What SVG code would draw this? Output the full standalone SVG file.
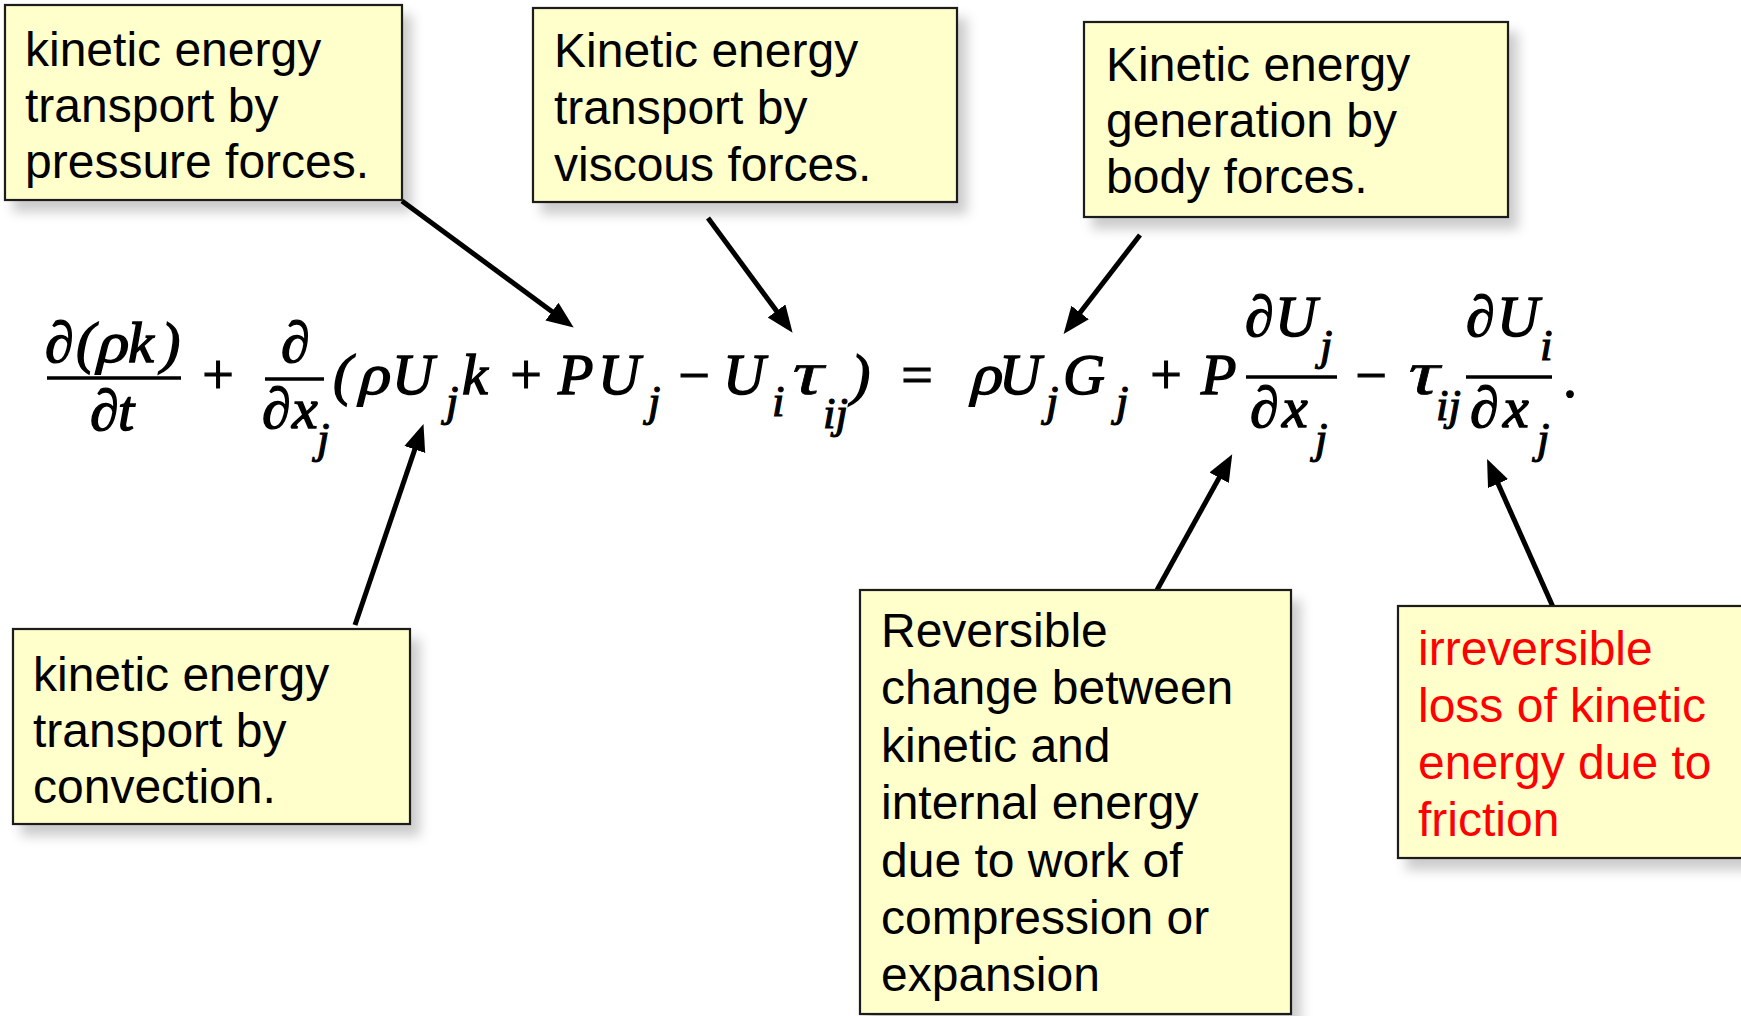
<svg xmlns="http://www.w3.org/2000/svg" width="1741" height="1016" viewBox="0 0 1741 1016">
<defs>
<style>
.box{fill:#FFFFCC;stroke:#1a1a1a;stroke-width:2.2;filter:url(#sh)}
.lbl{font-family:"Liberation Sans",Arial,sans-serif;font-size:48px;fill:#000}
.red{fill:#FF0000}
.m{font-family:"Liberation Serif","DejaVu Serif",serif;font-style:italic;font-size:58px;fill:#000;stroke:#000;stroke-width:1.4}
.g{font-family:"Liberation Serif","DejaVu Serif",serif;font-size:58px;fill:#000;stroke:#000;stroke-width:1.3}
.t{font-family:"Liberation Serif","DejaVu Serif",serif;font-size:58px;fill:#000;stroke:#000;stroke-width:0.6}
.s{font-family:"Liberation Serif","DejaVu Serif",serif;font-style:italic;font-size:45px;fill:#000;stroke:#000;stroke-width:1.1}
.op{font-family:"Liberation Serif","DejaVu Serif",serif;font-size:56px;fill:#000;stroke:#000;stroke-width:1.2;text-anchor:middle}
.bar{stroke:#000;stroke-width:3.4}
.conn{stroke:#000;stroke-width:5;fill:none;marker-end:url(#ah)}
</style>
<filter id="sh" x="-10%" y="-10%" width="130%" height="140%">
<feDropShadow dx="9" dy="11" stdDeviation="6" flood-color="#000" flood-opacity="0.2"/>
</filter>
<marker id="ah" markerUnits="userSpaceOnUse" markerWidth="30" markerHeight="24" refX="10" refY="11" orient="auto">
<path d="M0,0 L27,11 L0,22 z" fill="#000"/>
</marker>
</defs>
<rect width="1741" height="1016" fill="#fff"/>

<g id="connectors">
<line class="conn" x1="402" y1="201" x2="560" y2="317.5"/>
<line class="conn" x1="708" y1="218" x2="782.5" y2="319"/>
<line class="conn" x1="1140" y1="235" x2="1074" y2="320.5"/>
<line class="conn" x1="355" y1="625" x2="418" y2="440"/>
<line class="conn" x1="1157" y1="590" x2="1224" y2="469"/>
<line class="conn" x1="1553" y1="607" x2="1494" y2="474.5"/>
</g>

<g id="equation">
<text class="m" x="45 76" y="362">∂(</text>
<text class="g" transform="translate(94,362) skewX(-14) scale(1.12,1)">ρ</text>
<text class="m" x="128 161" y="362">k)</text>
<line class="bar" x1="47" y1="378" x2="181" y2="378"/>
<text class="m" x="90 118" y="430">∂t</text>
<text class="op" x="218" y="394">+</text>
<text class="m" x="281" y="362">∂</text>
<line class="bar" x1="265" y1="379" x2="324" y2="379"/>
<text class="m" x="262 292" y="428">∂x</text>
<text class="s" x="317" y="453">j</text>
<text class="m" x="333" y="394">(</text>
<text class="g" transform="translate(356,394) skewX(-14) scale(1.12,1)">ρ</text>
<text class="m" x="392" y="394">U</text>
<text class="s" x="446" y="416">j</text>
<text class="m" x="462" y="394">k</text>
<text class="op" x="526" y="394">+</text>
<text class="m" x="558 598" y="394">PU</text>
<text class="s" x="648" y="416">j</text>
<text class="op" x="694" y="394">−</text>
<text class="m" x="723" y="394">U</text>
<text class="s" x="772" y="416">i</text>
<text class="t" transform="translate(787,394) skewX(-14) scale(1.45,1.08)">τ</text>
<text class="s" x="823" y="428">ij</text>
<text class="m" x="851" y="394">)</text>
<text class="op" x="917" y="394">=</text>
<text class="g" transform="translate(968,394) skewX(-14) scale(1.12,1)">ρ</text>
<text class="m" x="999" y="394">U</text>
<text class="s" x="1046" y="416">j</text>
<text class="m" x="1063" y="394">G</text>
<text class="s" x="1116" y="416">j</text>
<text class="op" x="1166" y="394">+</text>
<text class="m" x="1201" y="394">P</text>
<text class="m" x="1245 1275" y="336">∂U</text>
<text class="s" x="1320" y="360">j</text>
<line class="bar" x1="1246" y1="377" x2="1337" y2="377"/>
<text class="m" x="1250 1282" y="427">∂x</text>
<text class="s" x="1315" y="453">j</text>
<text class="op" x="1371" y="394">−</text>
<text class="t" transform="translate(1403,394) skewX(-14) scale(1.45,1.08)">τ</text>
<text class="s" x="1436" y="420">ij</text>
<text class="m" x="1466 1497" y="336">∂U</text>
<text class="s" x="1540" y="360">i</text>
<line class="bar" x1="1466" y1="377" x2="1552" y2="377"/>
<text class="m" x="1470 1503" y="427">∂x</text>
<text class="s" x="1537" y="453">j</text>
<text class="op" x="1570" y="397">.</text>
</g>

<g id="node-pressure">
<rect class="box" x="5" y="5" width="397" height="195"/>
<text class="lbl" x="25" y="66">kinetic energy</text>
<text class="lbl" x="25" y="122">transport by</text>
<text class="lbl" x="25" y="178">pressure forces.</text>
</g>
<g id="node-viscous">
<rect class="box" x="533" y="8" width="424" height="194"/>
<text class="lbl" x="554" y="67">Kinetic energy</text>
<text class="lbl" x="554" y="124">transport by</text>
<text class="lbl" x="554" y="181">viscous forces.</text>
</g>
<g id="node-body">
<rect class="box" x="1084" y="22" width="424" height="195"/>
<text class="lbl" x="1106" y="81">Kinetic energy</text>
<text class="lbl" x="1106" y="137">generation by</text>
<text class="lbl" x="1106" y="193">body forces.</text>
</g>
<g id="node-convection">
<rect class="box" x="13" y="629" width="397" height="195"/>
<text class="lbl" x="33" y="691">kinetic energy</text>
<text class="lbl" x="33" y="747">transport by</text>
<text class="lbl" x="33" y="803">convection.</text>
</g>
<g id="node-reversible">
<rect class="box" x="860" y="590" width="431" height="424"/>
<text class="lbl" x="881" y="647">Reversible</text>
<text class="lbl" x="881" y="704">change between</text>
<text class="lbl" x="881" y="762">kinetic and</text>
<text class="lbl" x="881" y="819">internal energy</text>
<text class="lbl" x="881" y="877">due to work of</text>
<text class="lbl" x="881" y="934">compression or</text>
<text class="lbl" x="881" y="991">expansion</text>
</g>
<g id="node-irreversible">
<rect class="box" x="1398" y="606" width="360" height="252"/>
<text class="lbl red" x="1418" y="665">irreversible</text>
<text class="lbl red" x="1418" y="722">loss of kinetic</text>
<text class="lbl red" x="1418" y="779">energy due to</text>
<text class="lbl red" x="1418" y="836">friction</text>
</g>
</svg>
